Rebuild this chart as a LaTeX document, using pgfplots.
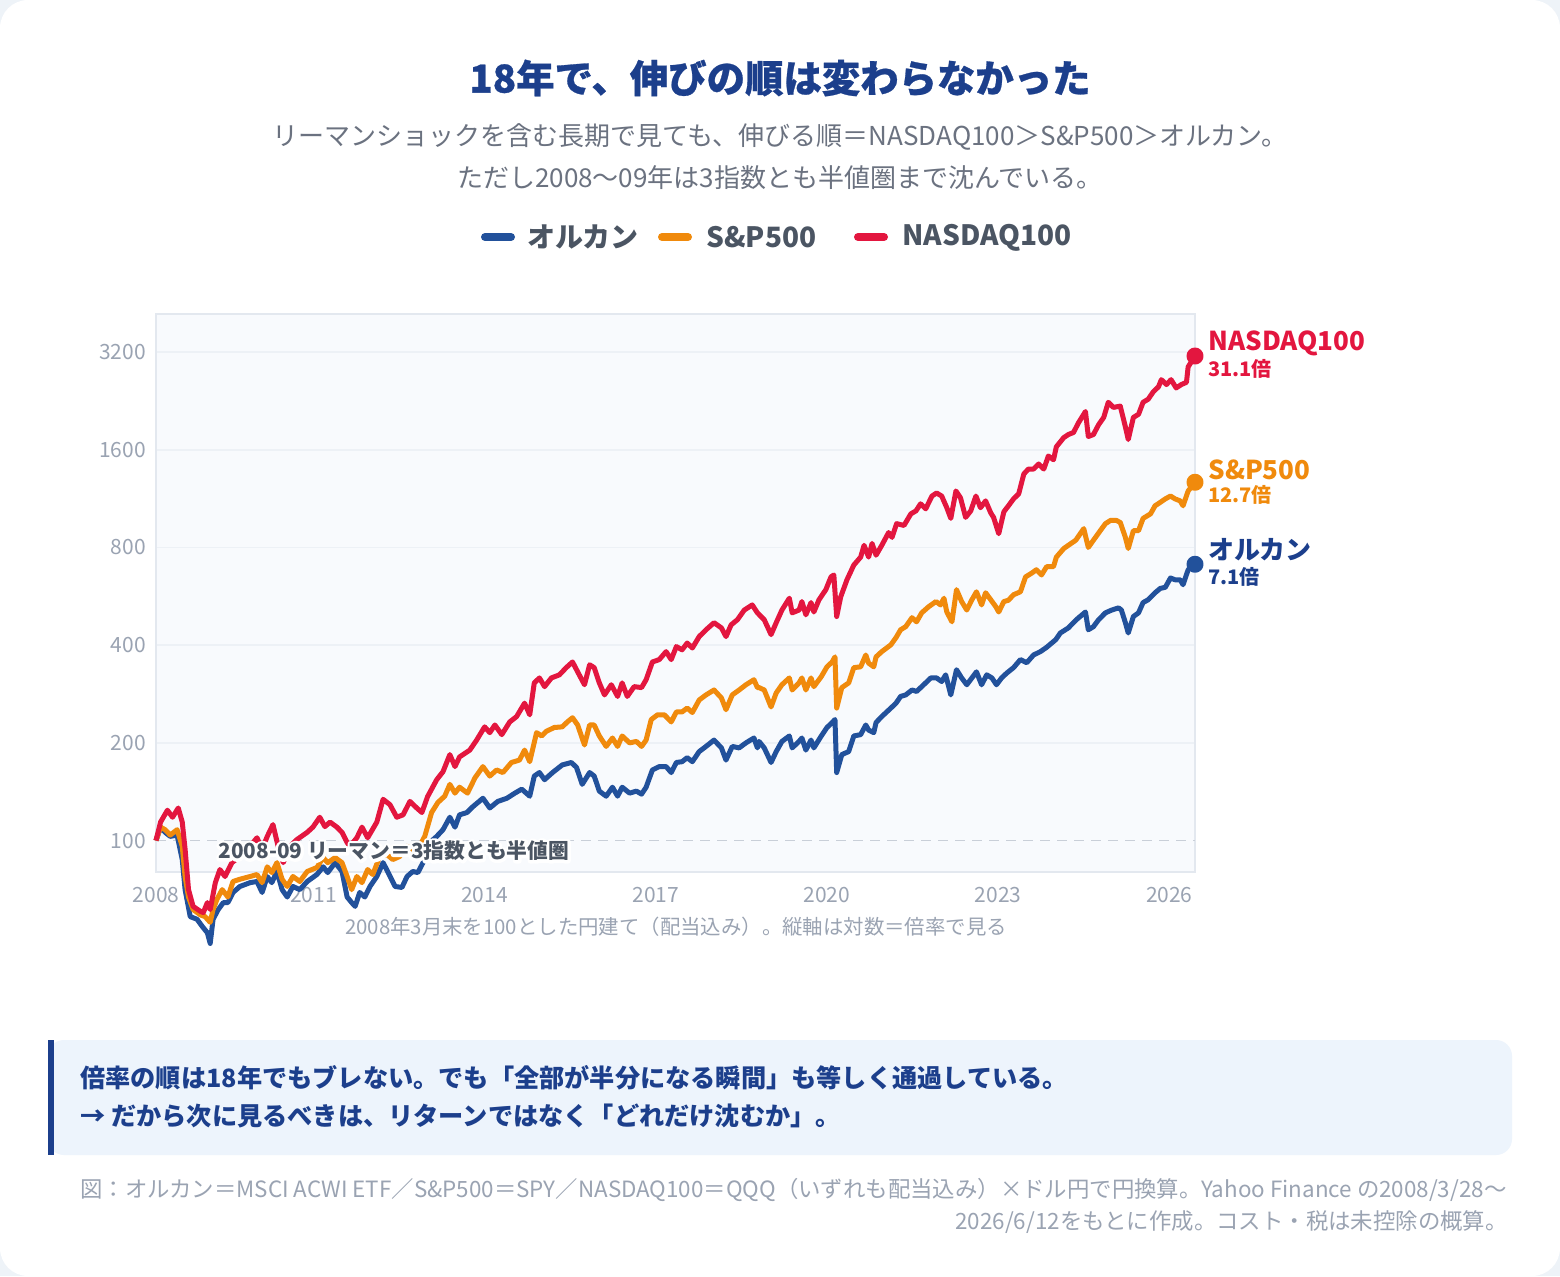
\documentclass[border=0pt]{standalone}
\usepackage{pgfplots}
\pgfplotsset{compat=1.18}
\usepackage{fontspec}
\setmainfont{Noto Sans CJK JP}
\newfontfamily\heavy{Noto Sans CJK JP}[BoldFeatures={FakeBold=0.7}]
\definecolor{pagebg}{HTML}{EEF3F8}
\definecolor{titleblue}{HTML}{1C3F8C}
\definecolor{subgray}{HTML}{6B7280}
\definecolor{leggray}{HTML}{4B5563}
\definecolor{tickc}{HTML}{9AA3B2}
\definecolor{cblue}{HTML}{22519B}
\definecolor{corange}{HTML}{F08A0C}
\definecolor{cred}{HTML}{E3163F}
\definecolor{plotbg}{HTML}{F8FAFD}
\definecolor{framec}{HTML}{E3E8EF}
\definecolor{gridc}{HTML}{EDF1F6}
\definecolor{dashc}{HTML}{C9CFD8}
\definecolor{boxbg}{HTML}{EDF4FC}
\newcommand{\fs}[1]{\fontsize{#1}{#1}\selectfont}
\newcommand{\ph}{\vphantom{あ}}
\newcommand{\halo}[1]{\rlap{\special{pdf:literal direct q 1 Tr 2.8 w 1 J 1 j 1 1 1 RG}#1\special{pdf:literal direct Q}}#1}
\begin{document}
\begin{tikzpicture}[x=0.5pt,y=-0.5pt]
\useasboundingbox (0,0) rectangle (1560,1276);
\fill[pagebg] (0,0) rectangle (1560,1276);
\fill[white, rounded corners=14pt] (0,0) rectangle (1560,1276);
% title
\node[font=\fs{19.2pt}\heavy\bfseries, text=titleblue] at (780,78) {18年で、伸びの順は変わらなかった};
\node[font=\fs{13pt}, text=subgray] at (780,137) {リーマンショックを含む長期で見ても、伸びる順＝NASDAQ100＞S\&P500＞オルカン。};
\node[font=\fs{13pt}, text=subgray] at (780,178) {ただし2008〜09年は3指数とも半値圏まで沈んでいる。};
% legend
\draw[cblue, line width=4pt, line cap=round] (485,237) -- (511,237);
\node[anchor=west, font=\fs{14pt}\bfseries, text=leggray, inner sep=0pt] at (527,237) {\ph オルカン};
\draw[corange, line width=4pt, line cap=round] (662,237) -- (688,237);
\node[anchor=west, font=\fs{14pt}\bfseries, text=leggray, inner sep=0pt] at (706,237) {\ph S\&P500};
\draw[cred, line width=4pt, line cap=round] (858,237) -- (884,237);
\node[anchor=west, font=\fs{14pt}\bfseries, text=leggray, inner sep=0pt] at (902,237) {\ph NASDAQ100};

\begin{axis}[
  at={(78pt,-436pt)}, anchor=south west,
  scale only axis, width=519.5pt, height=279pt,
  xmin=2008.24, xmax=2026.45,
  ymode=log, ymin=80, ymax=4190,
  clip=false,
  axis background/.style={fill=plotbg},
  axis line style={draw=framec, line width=0.8pt},
  xtick={2008.24,2011,2014,2017,2020,2023,2026},
  xticklabels={2008,2011,2014,2017,2020,2023,2026},
  ytick={200,400,800,1600,3200},
  yticklabels={200,400,800,1600,3200},
  extra y ticks={100}, extra y tick labels={100},
  extra y tick style={grid=none},
  ymajorgrids, grid style={draw=gridc, line width=0.8pt},
  major tick length=0pt,
  tick label style={font=\fs{10.5pt}, text=tickc},
  /pgf/number format/assume math mode=true,
  yticklabel style={xshift=-1.5pt},
  xticklabel style={yshift=-4pt},
  every axis plot/.append style={line width=2.5pt, line join=round, mark=none},
]
\draw[draw=dashc, line width=0.8pt, dash pattern=on 5pt off 3.5pt] (axis cs:2008.24,100) -- (axis cs:2026.45,100);
% オルカン
\addplot[cblue] coordinates {
(2008.24,100)(2008.32,110)(2008.40,106)(2008.49,103)(2008.61,104)(2008.70,87.4)(2008.75,70.6)(2008.84,58.3)(2008.96,57.2)(2009.05,54.4)(2009.14,52)(2009.19,48.2)(2009.24,57.2)(2009.33,61.3)(2009.42,64.4)(2009.50,64.4)(2009.59,69.2)(2009.71,72.2)(2009.89,74.2)(2010.01,74.8)(2010.10,69.2)(2010.19,77.5)(2010.27,74.2)(2010.36,80.3)(2010.45,70.6)(2010.54,67)(2010.64,72.2)(2010.76,70.6)(2010.89,74.8)(2011.06,78.6)(2011.17,83)(2011.25,79.7)(2011.38,85.5)(2011.50,80.3)(2011.59,67)(2011.67,64.4)(2011.73,62.7)(2011.81,69.2)(2011.90,67)(2011.99,72.2)(2012.11,77.5)(2012.22,85.5)(2012.30,80.3)(2012.43,72.2)(2012.55,71.7)(2012.64,77.5)(2012.74,80.3)(2012.83,79.7)(2012.92,85.5)(2013.04,98.6)(2013.16,103)(2013.27,108)(2013.39,118)(2013.48,110)(2013.56,120)
(2013.69,122)(2013.79,127)(2013.97,135)(2014.09,126)(2014.23,132)(2014.39,135)(2014.53,140)(2014.65,144)(2014.79,137)(2014.87,158)(2014.96,162)(2015.05,154)(2015.19,162)(2015.36,171)(2015.52,174)(2015.61,168)(2015.71,149)(2015.84,162)(2015.92,158)(2016.01,142)(2016.13,137)(2016.24,146)(2016.33,137)(2016.41,146)(2016.54,140)(2016.66,142)(2016.75,139)(2016.83,146)(2016.94,165)(2017.06,169)(2017.18,169)(2017.27,162)(2017.36,174)(2017.46,175)(2017.55,180)(2017.64,175)(2017.76,188)(2017.88,195)(2018.02,204)(2018.15,193)(2018.23,177)(2018.34,195)(2018.46,193)(2018.58,200)(2018.72,207)(2018.78,193)
(2018.81,202)(2018.90,193)(2019.02,174)(2019.11,188)(2019.21,202)(2019.34,210)(2019.39,193)(2019.51,202)(2019.56,207)(2019.63,190)(2019.72,204)(2019.77,193)(2019.90,210)(2020.00,223)(2020.09,231)(2020.14,236)(2020.17,162)(2020.26,184)(2020.38,188)(2020.47,210)(2020.59,212)(2020.68,227)(2020.73,219)(2020.82,215)(2020.86,231)(2020.96,241)(2021.12,256)(2021.21,265)(2021.29,278)(2021.38,281)(2021.49,291)(2021.57,288)(2021.66,298)(2021.82,317)(2021.92,317)(2022.01,309)(2022.08,324)(2022.17,281)(2022.27,336)(2022.36,317)(2022.45,302)(2022.54,317)(2022.62,331)(2022.71,302)(2022.80,324)(2022.89,317)(2022.97,302)(2023.06,317)(2023.15,328)
(2023.27,341)(2023.39,361)(2023.50,353)(2023.62,373)(2023.74,382)(2023.85,394)(2024.01,416)(2024.09,436)(2024.23,452)(2024.37,479)(2024.53,506)(2024.58,446)(2024.67,456)(2024.76,479)(2024.88,503)(2024.99,513)(2025.11,521)(2025.16,513)(2025.23,469)(2025.28,436)(2025.37,490)(2025.46,503)(2025.54,541)(2025.63,552)(2025.75,580)(2025.84,598)(2025.93,603)(2026.02,644)(2026.10,636)(2026.19,636)(2026.24,614)(2026.33,683)(2026.45,710)
};
% S&P500
\addplot[corange] coordinates {
(2008.24,100)(2008.32,110)(2008.40,108)(2008.49,104)(2008.61,108)(2008.70,96)(2008.75,77.5)(2008.81,67)(2008.89,61.3)(2009.02,59)(2009.10,58.3)(2009.19,56)(2009.24,61.3)(2009.31,66)(2009.40,70.6)(2009.50,67)(2009.59,74.8)(2009.71,76)(2009.89,77.5)(2010.01,78.6)(2010.10,74.2)(2010.19,83)(2010.27,79.7)(2010.36,85.5)(2010.45,76)(2010.54,72.2)(2010.64,77.5)(2010.76,74.8)(2010.89,80.3)(2011.06,82.6)(2011.17,88.6)(2011.25,85.5)(2011.38,88.6)(2011.50,85.5)(2011.59,77.5)(2011.67,70.6)(2011.76,77.5)(2011.85,74.2)(2011.95,81.4)(2012.04,78.6)(2012.16,89.3)(2012.29,90.5)(2012.39,87.4)(2012.51,89.3)(2012.64,96)(2012.74,94)(2012.86,96)(2012.95,103)(2013.07,122)(2013.18,131)(2013.30,137)(2013.39,149)(2013.48,140)(2013.56,146)
(2013.70,140)(2013.83,156)(2013.97,169)(2014.09,158)(2014.21,165)(2014.32,162)(2014.47,174)(2014.61,177)(2014.70,190)(2014.79,175)(2014.91,215)(2015.00,210)(2015.08,217)(2015.22,223)(2015.36,224)(2015.45,232)(2015.54,239)(2015.63,227)(2015.75,197)(2015.84,227)(2015.92,227)(2016.01,210)(2016.13,195)(2016.24,207)(2016.33,195)(2016.41,210)(2016.54,200)(2016.66,202)(2016.75,195)(2016.83,204)(2016.92,236)(2017.03,244)(2017.15,244)(2017.27,232)(2017.36,249)(2017.46,249)(2017.55,256)(2017.64,248)(2017.76,271)(2017.88,281)(2018.02,291)(2018.15,275)(2018.23,253)(2018.34,281)(2018.46,291)(2018.58,302)(2018.72,313)(2018.78,296)
(2018.81,296)(2018.90,291)(2019.02,258)(2019.11,285)(2019.21,302)(2019.34,317)(2019.39,291)(2019.51,306)(2019.56,317)(2019.63,291)(2019.72,317)(2019.77,298)(2019.90,320)(2020.00,343)(2020.09,355)(2020.14,368)(2020.17,256)(2020.26,296)(2020.38,306)(2020.47,341)(2020.59,343)(2020.68,373)(2020.73,352)(2020.82,343)(2020.86,368)(2020.96,382)(2021.12,401)(2021.21,422)(2021.29,446)(2021.38,456)(2021.49,486)(2021.57,472)(2021.66,503)(2021.78,525)(2021.91,545)(2021.99,532)(2022.05,558)(2022.10,506)(2022.19,472)(2022.27,593)(2022.36,545)(2022.45,513)(2022.54,552)(2022.62,584)(2022.71,532)(2022.78,580)(2022.87,552)(2022.96,525)(2023.01,506)(2023.10,545)(2023.18,550)
(2023.27,572)(2023.39,584)(2023.48,649)(2023.59,667)(2023.67,683)(2023.76,658)(2023.85,698)(2023.97,698)(2024.02,747)(2024.15,794)(2024.23,812)(2024.36,842)(2024.50,914)(2024.58,800)(2024.67,842)(2024.79,901)(2024.88,947)(2024.97,969)(2025.07,969)(2025.14,955)(2025.23,859)(2025.28,794)(2025.37,901)(2025.46,901)(2025.54,983)(2025.67,1015)(2025.75,1075)(2025.84,1101)(2025.93,1129)(2026.02,1152)(2026.10,1129)(2026.19,1113)(2026.24,1075)(2026.33,1194)(2026.45,1270)
};
% NASDAQ100
\addplot[cred] coordinates {
(2008.24,100)(2008.32,114)(2008.44,124)(2008.53,118)(2008.63,126)(2008.70,114)(2008.75,94)(2008.81,70.6)(2008.89,62.7)(2009.02,60.5)(2009.07,60)(2009.14,64.4)(2009.19,61.3)(2009.28,74.2)(2009.36,81.4)(2009.45,77.5)(2009.57,85.5)(2009.71,89.3)(2009.84,93.8)(2010.01,102)(2010.10,94)(2010.19,103)(2010.29,112)(2010.38,96)(2010.47,85.5)(2010.59,96)(2010.71,100.7)(2010.89,106)(2010.99,110)(2011.11,118)(2011.20,110.4)(2011.29,114)(2011.41,110)(2011.50,106)(2011.59,98.6)(2011.64,96)(2011.76,102)(2011.85,110)(2011.95,102)(2012.11,114)(2012.22,134)(2012.34,129)(2012.46,118)(2012.57,120)(2012.69,132)(2012.81,126)(2012.90,122)(2013.00,136.6)(2013.16,154)(2013.27,163)(2013.39,184)(2013.48,169)(2013.56,181)
(2013.74,190)(2013.86,204)(2014.00,224)(2014.09,215)(2014.18,227)(2014.30,212)(2014.44,232)(2014.56,241)(2014.70,265)(2014.79,244)(2014.87,306)(2014.96,317)(2015.05,298)(2015.17,317)(2015.31,324)(2015.43,341)(2015.54,355)(2015.63,331)(2015.75,302)(2015.84,348)(2015.92,341)(2016.01,306)(2016.10,281)(2016.22,302)(2016.33,278)(2016.41,306)(2016.50,278)(2016.62,298)(2016.75,296)(2016.83,313)(2016.94,355)(2017.06,361)(2017.18,382)(2017.27,361)(2017.36,396)(2017.46,387)(2017.55,406)(2017.64,392)(2017.76,425)(2017.88,446)(2018.02,469)(2018.15,452)(2018.23,425)(2018.32,462)(2018.43,479)(2018.55,513)(2018.69,532)(2018.78,503)
(2018.90,479)(2019.02,431)(2019.11,469)(2019.21,513)(2019.34,558)(2019.39,503)(2019.51,513)(2019.56,545)(2019.63,496)(2019.72,541)(2019.77,506)(2019.86,552)(2019.98,593)(2020.07,649)(2020.12,658)(2020.17,490)(2020.24,563)(2020.35,636)(2020.47,706)(2020.59,747)(2020.65,812)(2020.73,747)(2020.79,823)(2020.86,757)(2020.96,812)(2021.08,889)(2021.14,859)(2021.22,947)(2021.35,935)(2021.47,1015)(2021.56,1037)(2021.64,1090)(2021.73,1052)(2021.84,1152)(2021.92,1177)(2022.01,1152)(2022.10,1060)(2022.17,983)(2022.26,1194)(2022.34,1137)(2022.43,990)(2022.52,1037)(2022.61,1152)(2022.69,1060)(2022.78,1113)(2022.87,1022)(2022.92,990)(2023.01,882)(2023.10,1030)
(2023.18,1075)(2023.27,1129)(2023.36,1170)(2023.45,1347)(2023.53,1395)(2023.62,1395)(2023.71,1446)(2023.80,1395)(2023.88,1530)(2023.97,1490)(2024.02,1634)(2024.15,1744)(2024.23,1782)(2024.32,1808)(2024.41,1940)(2024.53,2098)(2024.58,1757)(2024.67,1782)(2024.76,1910)(2024.85,2012)(2024.93,2240)(2025.02,2160)(2025.14,2180)(2025.23,1882)(2025.28,1720)(2025.37,2012)(2025.46,2057)(2025.54,2240)(2025.63,2290)(2025.72,2415)(2025.81,2500)(2025.86,2630)(2025.95,2540)(2026.03,2630)(2026.12,2480)(2026.21,2540)(2026.30,2580)(2026.33,2880)(2026.45,3110)
};
\addplot[only marks, mark=*, mark size=3pt, cblue, mark options={draw=cblue, fill=cblue}] coordinates {(2026.45,710)};
\addplot[only marks, mark=*, mark size=3pt, corange, mark options={draw=corange, fill=corange}] coordinates {(2026.45,1270)};
\addplot[only marks, mark=*, mark size=3pt, cred, mark options={draw=cred, fill=cred}] coordinates {(2026.45,3110)};
\end{axis}
% annotation with halo
\node[anchor=west, font=\fs{10.4pt}\bfseries, text=leggray, inner sep=0pt] at (218,851) {\halo{2008-09 リーマン＝3指数とも半値圏}};
% end labels
\node[anchor=west, font=\fs{13pt}\bfseries, text=cred, inner sep=0pt] at (1208,343) {\ph NASDAQ100};
\node[anchor=west, font=\fs{10pt}\bfseries, text=cred, inner sep=0pt] at (1208,369) {31.1倍};
\node[anchor=west, font=\fs{13pt}\bfseries, text=corange, inner sep=0pt] at (1208,470) {\ph S\&P500};
\node[anchor=west, font=\fs{10pt}\bfseries, text=corange, inner sep=0pt] at (1208,495) {12.7倍};
\node[anchor=west, font=\fs{13pt}\bfseries, text=titleblue, inner sep=0pt] at (1208,550) {オルカン};
\node[anchor=west, font=\fs{10pt}\bfseries, text=titleblue, inner sep=0pt] at (1208,577) {7.1倍};
% caption
\node[font=\fs{10.2pt}, text=tickc] at (676,927) {2008年3月末を100とした円建て（配当込み）。縦軸は対数＝倍率で見る};
% box
\fill[boxbg, rounded corners=8pt] (48,1040) rectangle (1512,1155);
\fill[titleblue] (48,1040) rectangle (54,1155);
\node[anchor=west, font=\fs{12.6pt}\bfseries, text=titleblue, inner sep=0pt] at (80,1078) {倍率の順は18年でもブレない。でも「全部が半分になる瞬間」も等しく通過している。};
\node[anchor=west, font=\fs{12.6pt}\bfseries, text=titleblue, inner sep=0pt] at (80,1116) {→ だから次に見るべきは、リターンではなく「どれだけ沈むか」。};
% footnote
\node[anchor=west, font=\fs{11.2pt}, text=tickc, inner sep=0pt] at (80,1190) {図：オルカン＝MSCI ACWI ETF／S\&P500＝SPY／NASDAQ100＝QQQ（いずれも配当込み）×ドル円で円換算。Yahoo Finance の2008/3/28〜};
\node[anchor=east, font=\fs{11.2pt}, text=tickc, inner sep=0pt] at (1508,1222) {2026/6/12をもとに作成。コスト・税は未控除の概算。};
\end{tikzpicture}
\end{document}
